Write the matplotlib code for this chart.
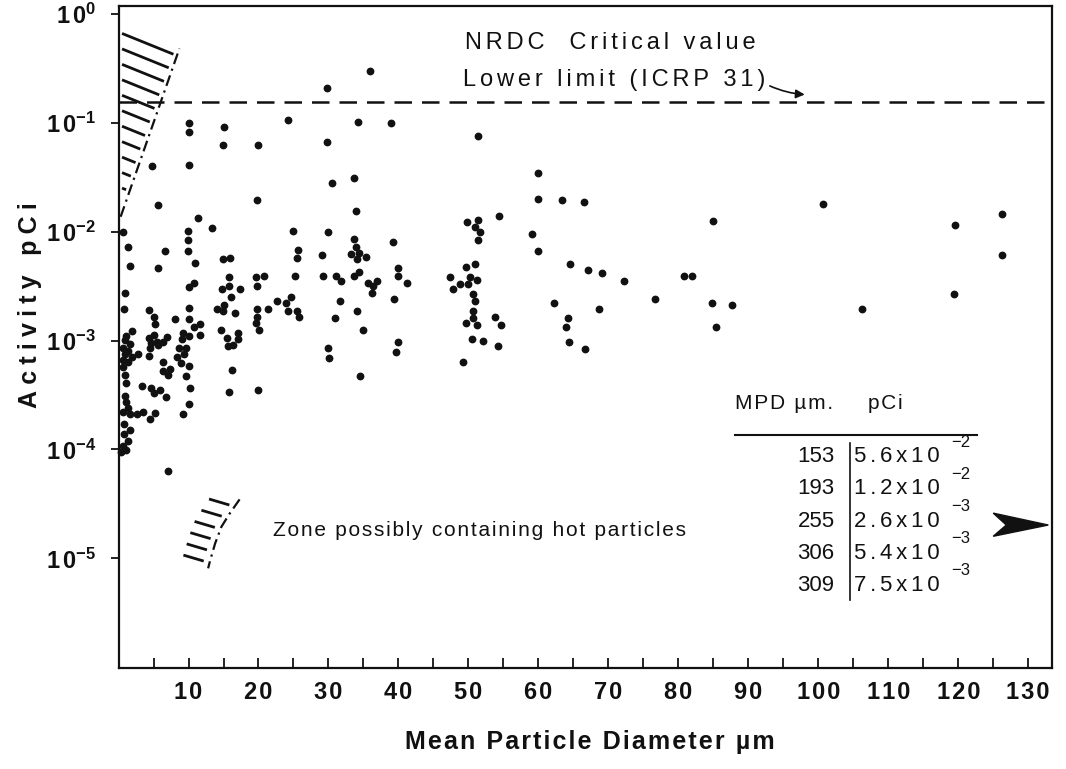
import numpy as np
import matplotlib.pyplot as plt
from matplotlib.patches import Polygon
from matplotlib.ticker import FixedLocator, NullLocator

plt.rcParams['font.family'] = ['Liberation Sans', 'DejaVu Sans']
plt.rcParams['mathtext.fontset'] = 'custom'
plt.rcParams['mathtext.rm'] = 'Liberation Sans'
plt.rcParams['mathtext.it'] = 'Liberation Sans:italic'
plt.rcParams['mathtext.bf'] = 'Liberation Sans:bold'

INK = "#111111"
HAIR, SIX, FOUR = "\u200a", "\u2006", "\u2005"   # used as letter spacing


def tracked(s, sep):
    # the scan uses loosely tracked lettering
    return sep.join(s)


# Mean particle diameter (µm) and activity (pCi)
diam_um = [
    # upper band
    35.9, 29.8, 24.2, 10.0, 10.0, 15.0, 34.2, 39.0, 14.9, 19.9, 29.8, 4.8, 10.0,
    30.5, 33.6, 19.8, 5.6, 34.0, 11.4, 13.4, 0.7, 9.9, 9.9, 25.0, 29.9,
    51.3, 60.0, 60.0, 63.4, 66.5, 54.3, 49.8, 51.3, 50.9,
    # right side
    100.7, 84.9, 119.5, 126.2, 126.3, 80.8, 81.9, 84.8, 87.7, 85.4, 106.3, 119.4,
    # 45-80 µm
    51.6, 51.4, 59.1, 60.0, 50.9, 49.7, 47.3, 50.2, 51.2, 48.8, 50.0, 47.8, 50.7,
    50.9, 50.7, 50.6, 49.7, 51.2, 53.8, 54.7, 50.5, 52.1, 54.2, 49.2,
    64.5, 67.1, 69.1, 72.3, 76.6, 62.3, 68.6, 64.2, 64.0, 64.4, 66.6,
    # ~40 µm
    39.2, 39.4, 39.9, 40.0, 39.9, 39.6, 41.2,
    # ~35 µm
    33.6, 34.0, 33.2, 34.3, 34.1, 35.3, 33.6, 34.4, 35.6, 36.3, 36.2, 37.0,
    34.1, 35.0, 34.5,
    # ~30 µm
    29.1, 29.2, 31.1, 31.8, 31.7, 30.9, 30.0, 30.1,
    # ~25 µm
    22.6, 24.0, 24.6, 24.2, 25.5, 25.8, 25.2, 25.5, 25.7,
    # ~20 µm
    19.6, 20.8, 19.8, 19.8, 21.3, 19.8, 19.6, 20.1, 20.0,
    # ~15 µm
    14.9, 15.9, 15.8, 15.8, 14.8, 17.4, 16.0, 14.0, 14.9, 15.0, 16.6, 14.7,
    15.5, 15.6, 16.4, 17.0, 17.0, 16.2, 15.8,
    # ~10 µm
    9.2, 9.1, 8.6, 10.0, 9.7, 8.4, 9.3, 8.9, 10.0, 9.6, 10.2, 10.0, 9.2,
    10.0, 10.0, 10.8, 11.6, 11.6, 10.9, 10.8, 10.0, 9.9,
    # ~5 µm
    2.8, 4.3, 5.0, 5.2, 4.4, 5.0, 4.7, 5.5, 4.5, 5.7, 6.3, 6.9, 4.3, 8.1,
    6.3, 6.4, 7.4, 7.1, 3.3, 4.7, 5.1, 5.9, 6.8, 2.6, 3.5, 4.5, 5.2, 7.0,
    6.6, 5.7,
    # ~1 µm
    0.9, 0.8, 1.9, 1.1, 0.9, 1.6, 0.7, 1.4, 0.9, 1.9, 0.6, 1.4, 0.7, 0.9,
    1.1, 0.9, 1.1, 1.4, 0.6, 1.6, 0.8, 1.7, 0.8, 1.3, 0.6, 1.1, 0.4, 1.4, 1.6,
]
activity_pci = [
    0.30, 0.21, 0.107, 0.100, 0.082, 0.091, 0.102, 0.099, 0.062, 0.062, 0.066,
    0.040, 0.041, 0.028, 0.031, 0.0196, 0.0175, 0.0154, 0.0134, 0.0109,
    0.0100, 0.0102, 0.0084, 0.0102, 0.0100,
    0.076, 0.0345, 0.0201, 0.0195, 0.0187, 0.0139, 0.0122, 0.0128, 0.0111,
    0.0178, 0.0125, 0.0114, 0.0146, 0.0061, 0.0039, 0.0039, 0.0022, 0.0021,
    0.00134, 0.00195, 0.0027,
    0.0099, 0.0084, 0.0096, 0.0066, 0.0050, 0.0047, 0.0038, 0.0038, 0.0036,
    0.0033, 0.0033, 0.0030, 0.0027, 0.0023, 0.00187, 0.0016, 0.00144, 0.00138,
    0.00164, 0.00139, 0.00104, 0.0010, 0.00089, 0.00063,
    0.0050, 0.0044, 0.0042, 0.0035, 0.0024, 0.0022, 0.00195, 0.0016, 0.00132,
    0.00096, 0.00083,
    0.0080, 0.0024, 0.0039, 0.0046, 0.00096, 0.00078, 0.0034,
    0.0086, 0.0072, 0.0063, 0.0064, 0.0056, 0.0058, 0.0039, 0.0043, 0.0034,
    0.0032, 0.00275, 0.0035, 0.00187, 0.00126, 0.00047,
    0.0061, 0.0039, 0.0039, 0.0035, 0.0023, 0.0016, 0.00086, 0.00069,
    0.0023, 0.0022, 0.0025, 0.00188, 0.00187, 0.00164, 0.0039, 0.0057, 0.0068,
    0.0038, 0.0039, 0.0032, 0.00195, 0.00195, 0.00166, 0.00144, 0.00125, 0.00035,
    0.0056, 0.0057, 0.0038, 0.0032, 0.0030, 0.0030, 0.0025, 0.00195, 0.00187,
    0.0021, 0.0018, 0.00125, 0.00105, 0.00090, 0.00091, 0.00118, 0.00103,
    0.00054, 0.00034,
    0.00117, 0.00103, 0.00085, 0.00109, 0.00085, 0.00070, 0.00075, 0.00062,
    0.00058, 0.00047, 0.00037, 0.00026, 0.00021, 0.00198, 0.00157, 0.00132,
    0.00141, 0.00113, 0.0052, 0.00335, 0.0031, 0.0067,
    0.00076, 0.0019, 0.00164, 0.00142, 0.00105, 0.00113, 0.00094, 0.00098,
    0.00085, 0.00091, 0.00096, 0.00107, 0.00072, 0.00157, 0.00063, 0.00053,
    0.00055, 0.00048, 0.00038, 0.00037, 0.00033, 0.00035, 0.00030, 0.00021,
    0.00022, 0.00019, 0.000215, 0.000064, 0.0067, 0.0046,
    0.00272, 0.00194, 0.00122, 0.00109, 0.00101, 0.00093, 0.00085, 0.00081,
    0.00075, 0.00071, 0.00066, 0.00063, 0.00057, 0.00048, 0.00041, 0.00031,
    0.00027, 0.00024, 0.00022, 0.00021, 0.00017, 0.00015, 0.00014, 0.00012,
    0.000108, 0.000099, 0.000094, 0.0072, 0.0048,
]

# particles beyond the x range, listed in the inset table
table_mpd = [153, 193, 255, 306, 309]
table_mant = ["5.6", "1.2", "2.6", "5.4", "7.5"]
table_exp = [-2, -2, -3, -3, -3]

icrp_limit = 0.155

# hand-drawn zone boundaries
upper_edge_x = [0.3, 8.7]
upper_edge_y = [0.0137, 0.48]
lower_edge_x = [17.3, 15.9, 14.7, 13.8, 13.1, 12.8]
lower_edge_y = [3.48e-5, 2.59e-5, 1.95e-5, 1.37e-5, 9.6e-6, 8.1e-6]

fig = plt.figure(figsize=(10.66, 7.69), dpi=100)
fig.patch.set_facecolor("white")
ax = fig.add_axes([0.1112, 0.1313, 0.8757, 0.8609])
ax.set_yscale("log")
ax.set_xlim(0, 133.4)
ax.set_ylim(10**-6.007, 10**0.072)

for s in ax.spines.values():
    s.set_linewidth(1.6)
    s.set_color(INK)

ax.plot(diam_um, activity_pci, "o", ms=4.6, color=INK, mec=INK, clip_on=False)

# ICRP 31 lower limit
ax.axhline(icrp_limit, color=INK, lw=1.8, dashes=(7, 4))

# boundary lines, dash-dot
dd = (5, 2.2, 1, 2.2)
ax.plot(upper_edge_x, upper_edge_y, color=INK, lw=1.6, dashes=dd)
ax.plot(lower_edge_x, lower_edge_y, color=INK, lw=1.6, dashes=dd)

# hatching left of the upper boundary
ub_x0, ub_x1 = upper_edge_x
ub_e0, ub_e1 = np.log10(upper_edge_y)
kb = (ub_e1 - ub_e0) / (ub_x1 - ub_x0)
kh = 0.026
for e0 in np.arange(-0.18, -1.65, -0.142):
    xi = (e0 + kh * 0.5 - ub_e0 + kb * ub_x0) / (kb + kh)
    xe = xi - 0.5
    if xe > 0.9:
        ax.plot([0.5, xe], [10**e0, 10**(e0 - kh * (xe - 0.5))],
                color=INK, lw=2.0, solid_capstyle="butt")

# hatching left of the lower boundary
le = np.log10(lower_edge_y)
for ek in np.linspace(-4.51, -5.025, 6):
    xc = np.interp(ek, le[::-1], np.array(lower_edge_x)[::-1])
    xr = xc - 0.9
    xl = xr - 2.9
    ax.plot([xl, xr], [10**(ek + 0.055), 10**ek], color=INK, lw=2.0,
            solid_capstyle="butt")

# ticks
ax.set_xticks(np.arange(10, 131, 10))
ax.xaxis.set_minor_locator(FixedLocator(np.arange(5, 131, 10)))
ax.tick_params(axis="x", which="both", direction="in", length=7, width=1.3,
               top=False, labelsize=17, pad=9, colors=INK)
ax.set_xticklabels([tracked(str(v), HAIR) for v in range(10, 131, 10)],
                   fontweight="bold")

ax.set_yticks([10.0**k for k in range(-5, 1)])
ax.yaxis.set_minor_locator(NullLocator())
ax.set_yticklabels([r"$\mathbf{1\,0^{%d}}$" % k for k in range(-5, 1)])
ax.tick_params(axis="y", which="both", direction="out", length=6, width=1.3,
               right=False, labelsize=17, pad=10, colors=INK)

ax.set_xlabel(tracked("Mean Particle Diameter µm", HAIR), fontsize=18,
              fontweight="bold", color=INK)
ax.xaxis.set_label_coords(0.505, -0.112)
ax.xaxis.label.set_va("center")
ax.set_ylabel(tracked("Activity pCi", FOUR), fontsize=18, fontweight="bold",
              color=INK)
ax.yaxis.set_label_coords(-0.095, 0.548)
ax.yaxis.label.set_va("center")

# annotations
ax.text(0.371, 0.944, tracked("NRDC  Critical value", SIX),
        transform=ax.transAxes, ha="left", va="center", fontsize=17, color=INK)
ax.text(0.369, 0.888, tracked("Lower limit (ICRP 31)", SIX),
        transform=ax.transAxes, ha="left", va="center", fontsize=17, color=INK)
ax.annotate("", xy=(0.738, 0.866), xytext=(0.695, 0.881),
            xycoords="axes fraction", textcoords="axes fraction",
            arrowprops=dict(arrowstyle="-|>", connectionstyle="arc3,rad=0.1",
                            lw=1.2, mutation_scale=13, color=INK))
ax.text(0.165, 0.207, tracked("Zone possibly containing hot particles", HAIR),
        transform=ax.transAxes, ha="left", va="center", fontsize=15,
        color=INK)

# inset table
ax.text(0.660, 0.399, tracked("MPD µm.", HAIR), transform=ax.transAxes,
        ha="left", va="center", fontsize=15, color=INK)
ax.text(0.803, 0.399, tracked("pCi", HAIR), transform=ax.transAxes,
        ha="left", va="center", fontsize=15, color=INK)
ax.plot([0.660, 0.920], [0.352, 0.352], transform=ax.transAxes, color=INK,
        lw=1.5, clip_on=False)
ax.plot([0.784, 0.784], [0.340, 0.103], transform=ax.transAxes, color=INK,
        lw=1.2, clip_on=False)
row_y = np.linspace(0.319, 0.125, len(table_mpd))
for yy, mpd, m, ex in zip(row_y, table_mpd, table_mant, table_exp):
    ax.text(0.767, yy, str(mpd), transform=ax.transAxes, ha="right",
            va="center", fontsize=16, color=INK)
    ax.text(0.788, yy, tracked(m + "x10", SIX), transform=ax.transAxes,
            ha="left", va="center", fontsize=16, color=INK)
    ax.text(0.892, yy + 0.022, "\u2212%d" % abs(ex), transform=ax.transAxes,
            ha="left", va="center", fontsize=12, color=INK)

# big arrowhead pointing off the axis
ax.add_patch(Polygon([(0.937, 0.234), (0.996, 0.216), (0.937, 0.199),
                      (0.951, 0.216)], closed=True, transform=ax.transAxes,
                     facecolor=INK, edgecolor=INK, clip_on=False))

fig.savefig("out.png", dpi=100, facecolor="white")
